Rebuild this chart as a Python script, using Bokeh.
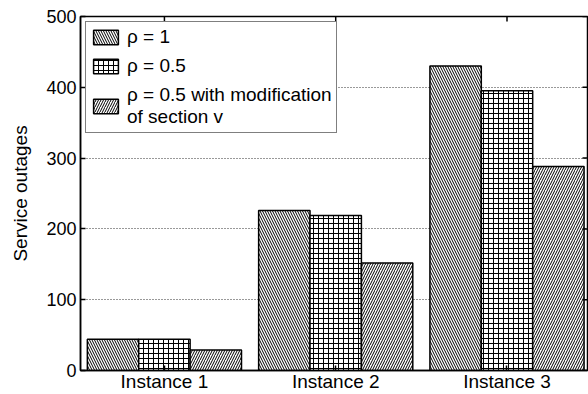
import math
from bokeh.plotting import figure
from bokeh.models import (ColumnDataSource, Range1d, FixedTicker,
                          Legend, LegendItem)
from bokeh.transform import dodge
from bokeh.embed import file_html
from bokeh.resources import INLINE

# ---- data ----
instances = ["Instance 1", "Instance 2", "Instance 3"]
positions = [1, 2, 3]
rho_1 = [44, 226, 430]
rho_05 = [44, 219, 395]
rho_05_mod = [29, 152, 288]
series_labels = ["ρ = 1", "ρ = 0.5", "ρ = 0.5 with modification\nof section v"]
y_ticks = [0, 100, 200, 300, 400, 500]

FONT = "Liberation Sans"
X_START, X_END = 0.51, 3.47
Y_START, Y_END = 0, 500

src = ColumnDataSource(dict(x=positions, a=rho_1, b=rho_05, c=rho_05_mod))

p = figure(width=588, height=394, output_backend="svg", toolbar_location=None,
           x_range=Range1d(X_START, X_END), y_range=Range1d(Y_START, Y_END),
           min_border_left=80, min_border_right=1, min_border_top=16,
           min_border_bottom=22)
p.outline_line_color = "black"
p.outline_line_width = 1.5
p.background_fill_color = "white"
p.border_fill_color = "white"

bw = 0.3
common = dict(width=bw, bottom=0, fill_color="white", line_color="black",
              line_width=1.5, hatch_color="black", hatch_weight=1, source=src)
r1 = p.vbar(x=dodge("x", -bw, range=p.x_range), top="a", hatch_pattern="\\",
            hatch_scale=5, **common)
r2 = p.vbar(x=dodge("x", 0, range=p.x_range), top="b", hatch_pattern="+",
            hatch_scale=5, **common)
r3 = p.vbar(x=dodge("x", bw, range=p.x_range), top="c", hatch_pattern="/",
            hatch_scale=5, **common)

# axes
xt = FixedTicker(ticks=positions)
yt = FixedTicker(ticks=y_ticks)
overrides = {pos: lab for pos, lab in zip(positions, instances)}

for ax in p.xaxis:
    ax.ticker = xt
    ax.major_label_overrides = overrides
    ax.major_label_standoff = 0
for ax in p.yaxis:
    ax.ticker = yt
    ax.axis_label = "Service outages"
    ax.axis_label_text_font = FONT
    ax.axis_label_text_font_size = "19px"
    ax.axis_label_text_font_style = "normal"
    ax.axis_label_text_color = "black"
    ax.axis_label_standoff = 12
    ax.major_label_standoff = 4

for ax in list(p.xaxis) + list(p.yaxis):
    ax.major_tick_in = 5
    ax.major_tick_out = 0
    ax.minor_tick_in = 0
    ax.minor_tick_out = 0
    ax.axis_line_width = 1.5
    ax.axis_line_color = "black"
    ax.major_tick_line_width = 1.5
    ax.major_tick_line_color = "black"
    ax.major_label_text_font = FONT
    ax.major_label_text_color = "black"
p.xaxis.major_label_text_font_size = "19px"
p.yaxis.major_label_text_font_size = "18px"

# inward ticks on the top and right edges of the box
p.ray(x=positions, y=[Y_END] * len(positions), length=5, length_units="screen",
      angle=-math.pi / 2, line_color="black", line_width=1.5)
p.ray(x=[X_END] * len(y_ticks), y=y_ticks, length=5, length_units="screen",
      angle=math.pi, line_color="black", line_width=1.5)

# grid
p.xgrid.grid_line_color = None
p.ygrid.ticker = yt
p.ygrid.grid_line_color = "#333333"
p.ygrid.grid_line_dash = "1 2"
p.ygrid.grid_line_width = 1

legend = Legend(items=[LegendItem(label=series_labels[0], renderers=[r1]),
                       LegendItem(label=series_labels[1], renderers=[r2]),
                       LegendItem(label=series_labels[2], renderers=[r3])],
                location="top_left", margin=5, padding=4, spacing=7,
                glyph_width=31, glyph_height=18, label_standoff=6,
                label_text_font=FONT, label_text_font_size="19px",
                label_text_color="black",
                border_line_color="black", border_line_width=1.5,
                background_fill_color="white", background_fill_alpha=1)
p.add_layout(legend)

open("out.html", "w").write(file_html(p, INLINE))
